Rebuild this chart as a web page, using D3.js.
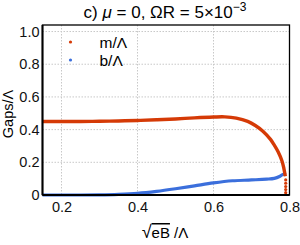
<!DOCTYPE html>
<html>
<head>
<meta charset="utf-8">
<script src="https://cdn.jsdelivr.net/npm/d3@7"></script>
<style>
  body { margin: 0; background: #fff; }
  text { font-family: "Liberation Sans", Arial, sans-serif; }
  .axis path, .axis line { display: none; }
</style>
</head>
<body>
<svg id="chart"></svg>
<script>
// values
const mX = [0.15, 0.2, 0.25, 0.3, 0.35, 0.4, 0.45, 0.5, 0.55, 0.6, 0.63, 0.66, 0.69, 0.71, 0.73, 0.75, 0.76, 0.77, 0.78, 0.785, 0.789];
const mY = [0.450, 0.450, 0.450, 0.451, 0.453, 0.456, 0.460, 0.465, 0.472, 0.477, 0.478, 0.470, 0.450, 0.425, 0.390, 0.340, 0.305, 0.265, 0.210, 0.165, 0.115];
// the tail of m drawn as loose dots
const mTailX = [0.790, 0.790, 0.790, 0.790, 0.790];
const mTailY = [0.092, 0.072, 0.052, 0.033, 0.014];
const bX = [0.15, 0.2, 0.25, 0.3, 0.35, 0.4, 0.45, 0.5, 0.55, 0.6, 0.65, 0.7, 0.74, 0.76, 0.775, 0.785, 0.79];
const bY = [0.000, 0.000, 0.000, 0.001, 0.004, 0.010, 0.022, 0.038, 0.056, 0.074, 0.087, 0.092, 0.097, 0.102, 0.115, 0.128, 0.122];
const xTicks = [0.2, 0.4, 0.6, 0.8];
const yTicks = [0, 0.2, 0.4, 0.6, 0.8, 1.0];
const series = ["m/Λ", "b/Λ"];
const colors = ["#d53a06", "#3b6fdc"];

const W = 300, H = 245;
const margin = {top: 25, right: 10.5, bottom: 50, left: 42.5};
const width = W - margin.left - margin.right;
const height = H - margin.top - margin.bottom;

const svg = d3.select("#chart").attr("width", W).attr("height", H);
const chart = svg.append("g")
    .attr("transform", `translate(${margin.left},${margin.top})`);

const xScale = d3.scaleLinear().domain([0.15, 0.8]).range([0, width]);
const yScale = d3.scaleLinear().domain([0, 1.04]).range([height, 0]);

// grid
chart.append("g").selectAll("line")
  .data(xTicks)
  .join("line")
    .attr("x1", d => xScale(d)).attr("x2", d => xScale(d))
    .attr("y1", 0).attr("y2", height)
    .attr("stroke", "#c8c8c8").attr("stroke-width", 1)
    .attr("stroke-dasharray", "1.5,1.5");
chart.append("g").selectAll("line")
  .data(yTicks.filter(d => d > 0))
  .join("line")
    .attr("x1", 0).attr("x2", width)
    .attr("y1", d => yScale(d)).attr("y2", d => yScale(d))
    .attr("stroke", "#c8c8c8").attr("stroke-width", 1)
    .attr("stroke-dasharray", "1.5,1.5");

// axes labels
const xAxis = d3.axisBottom(xScale).tickValues(xTicks).tickSize(0).tickPadding(7)
    .tickFormat(d3.format(".1f"));
const yAxis = d3.axisLeft(yScale).tickValues(yTicks).tickSize(0).tickPadding(3)
    .tickFormat(d => d === 0 ? "0" : d3.format(".1f")(d));
chart.append("g").attr("class", "axis")
    .attr("transform", `translate(0,${height})`)
    .call(xAxis)
    .selectAll("text").attr("font-size", 14.5).attr("fill", "#111");
chart.append("g").attr("class", "axis")
    .call(yAxis)
    .selectAll("text").attr("font-size", 14.5).attr("fill", "#111");

// curves
const line = d3.line().x(d => xScale(d[0])).y(d => yScale(d[1])).curve(d3.curveMonotoneX);
chart.append("path")
    .datum(d3.zip(bX, bY))
    .attr("d", line)
    .attr("fill", "none").attr("stroke", colors[1]).attr("stroke-width", 3.2);
chart.append("path")
    .datum(d3.zip(mX, mY))
    .attr("d", d3.line().x(d => xScale(d[0])).y(d => yScale(d[1])).curve(d3.curveCatmullRom))
    .attr("fill", "none").attr("stroke", colors[0]).attr("stroke-width", 3.4);
chart.append("g").selectAll("circle")
  .data(d3.zip(mTailX, mTailY))
  .join("circle")
    .attr("cx", d => xScale(d[0]))
    .attr("cy", d => yScale(d[1]))
    .attr("r", 1.6)
    .attr("fill", colors[0]);

// frame
chart.append("rect")
    .attr("width", width).attr("height", height)
    .attr("fill", "none").attr("stroke", "#000").attr("stroke-width", 1.3);
chart.append("line").attr("x1", 0).attr("x2", 0).attr("y1", 0).attr("y2", height)
    .attr("stroke", "#000").attr("stroke-width", 2);
chart.append("line").attr("x1", 0).attr("x2", width).attr("y1", height).attr("y2", height)
    .attr("stroke", "#000").attr("stroke-width", 2);

// legend
const legend = chart.append("g").selectAll("g")
  .data(series)
  .join("g")
    .attr("transform", (d, i) => `translate(28,${17 + i * 18})`);
legend.append("circle").attr("r", 1.6).attr("fill", (d, i) => colors[i]);
legend.append("text")
    .attr("x", 29).attr("y", 5.5)
    .attr("font-size", 15.5)
    .text(d => d);

// title
const title = svg.append("text")
    .attr("x", 165).attr("y", 18)
    .attr("text-anchor", "middle")
    .attr("font-size", 17);
title.append("tspan").text("c) ");
title.append("tspan").attr("font-style", "italic").text("μ");
title.append("tspan").text(" = 0, ΩR = 5×10");
title.append("tspan").attr("font-size", 12).attr("dy", -7).text("−3");

// y label
svg.append("text")
    .attr("transform", "translate(13,114) rotate(-90)")
    .attr("text-anchor", "middle")
    .attr("font-size", 14.5)
    .text("Gaps/Λ");

// x label
const xl = svg.append("text")
    .attr("x", 165).attr("y", 238)
    .attr("text-anchor", "middle")
    .attr("font-size", 15);
xl.append("tspan").attr("font-size", 18).text("√");
xl.append("tspan").style("text-decoration", "overline").text("eB");
xl.append("tspan").text(" /Λ");
</script>
</body>
</html>
